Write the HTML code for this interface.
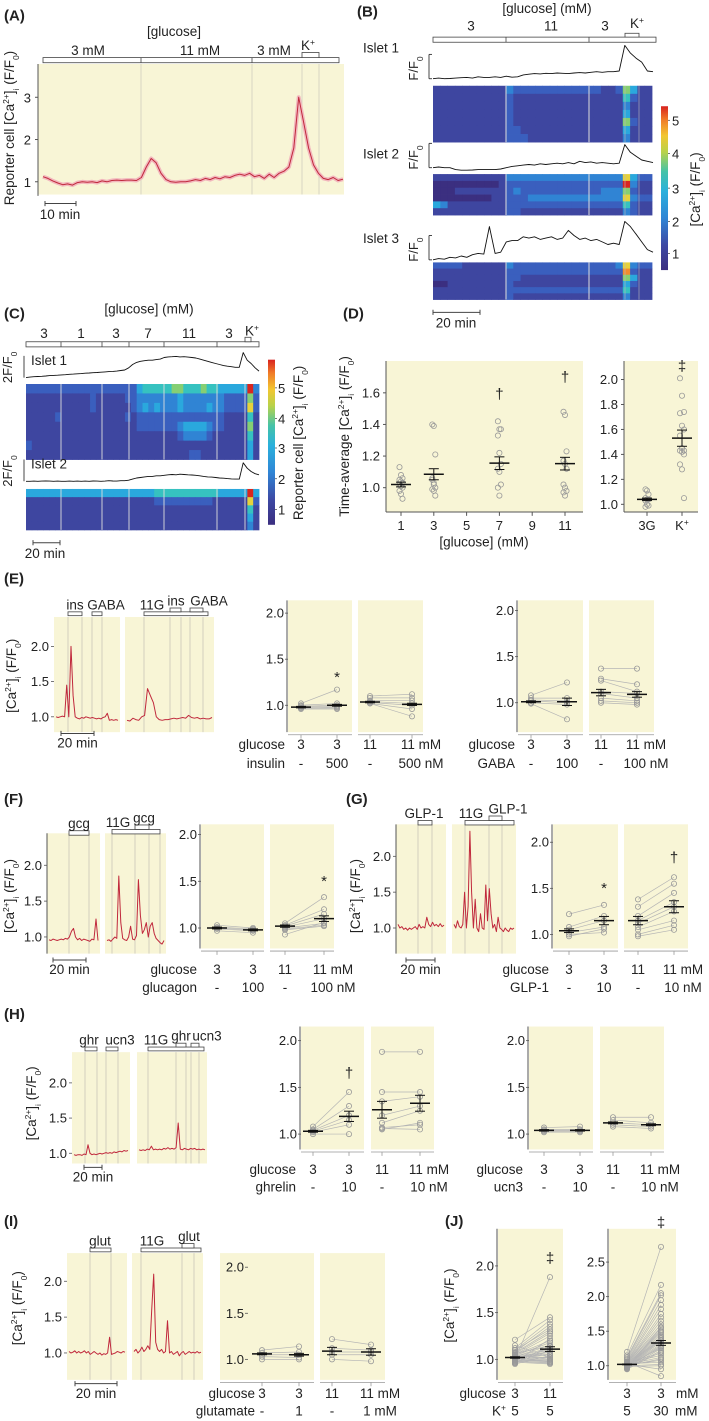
<!DOCTYPE html>
<html><head><meta charset="utf-8">
<style>
html,body{margin:0;padding:0;background:#fff;}
svg{display:block;font-family:"Liberation Sans",Arial,sans-serif;}
</style></head>
<body>
<svg id="fig" xmlns="http://www.w3.org/2000/svg" width="709" height="1421" viewBox="0 0 709 1421">
<defs>
<linearGradient id="cmap" x1="0" y1="1" x2="0" y2="0">
<stop offset="0" stop-color="#3b2f80"/><stop offset="0.15" stop-color="#3d48a3"/><stop offset="0.32" stop-color="#2f86d6"/>
<stop offset="0.48" stop-color="#2ab0dc"/><stop offset="0.6" stop-color="#45c3a8"/><stop offset="0.72" stop-color="#b8d24a"/>
<stop offset="0.82" stop-color="#f2c631"/><stop offset="0.92" stop-color="#f07a28"/><stop offset="1" stop-color="#d8231f"/>
</linearGradient>
</defs>
</svg>
<script>
// ---------------- DATA ----------------
const aTrace=[1.12,1.08,1.02,0.97,0.93,0.95,0.92,0.98,1.0,0.99,1.0,0.98,1.02,1.0,1.03,1.04,1.03,1.04,1.04,1.03,1.1,1.35,1.55,1.45,1.2,1.05,1.0,0.99,1.0,1.0,1.02,1.05,1.03,1.08,1.05,1.1,1.07,1.12,1.1,1.15,1.18,1.15,1.2,1.12,1.15,1.08,1.18,1.1,1.2,1.25,1.35,1.8,3.0,2.4,1.8,1.4,1.2,1.08,1.05,1.1,1.03,1.06];
const bIslet1=[1.0,1.05,1.0,1.02,1.05,1.08,1.1,1.05,1.15,1.1,1.1,1.15,1.1,1.2,1.12,1.15,1.3,1.35,1.4,1.38,1.42,1.4,1.45,1.42,1.4,1.45,1.48,1.45,1.5,1.55,1.5,1.55,1.55,1.6,3.6,3.0,2.6,2.3,1.6,1.55];
const bIslet2=[1.0,1.05,1.0,1.0,0.85,0.8,0.8,0.82,0.85,0.85,0.85,0.85,0.9,1.0,1.1,1.15,1.2,1.25,1.2,1.3,1.25,1.3,1.35,1.3,1.4,1.3,1.5,1.4,1.45,1.35,1.4,1.35,1.3,1.35,2.8,2.2,1.9,1.6,1.5,1.4];
const bIslet3=[1.0,1.1,1.05,1.2,1.15,1.3,1.2,1.4,1.5,1.45,3.6,1.5,1.6,2.4,2.5,2.5,2.8,2.7,2.8,2.6,2.7,2.8,2.6,2.7,3.3,2.9,2.6,2.7,2.5,2.6,2.4,2.2,2.3,2.2,4.0,3.6,3.0,2.4,1.8,1.6];
const bHeat1=["111111111132222222222221126411","111111111121111111111111115211","111111111121111111111111113111","111111111121111111111111114111","111111111121111111111111116211","111111111122111111111111114111","111111111122211111111111113111"];
const bHeat2=["111111111133333333333333337422","000000000122222222222222229311","000111111123222222222223336211","000000001122233333333333337322","431111111122222222222222225211","111111111122111111111111113211"];
const bHeat3=["222211111132222222222222237322","111111111122222222222222228211","111111111122111111111111116411","001111111121111111111111114211","111111111122222222222222225111","111111111121111111111111113111"];
const cIslet1=[1.0,1.05,1.08,1.1,1.12,1.15,1.18,1.2,1.22,1.25,1.27,1.3,1.32,1.35,1.37,1.4,1.42,1.45,1.47,1.5,1.52,1.55,1.57,1.6,1.65,1.7,1.9,2.2,2.4,2.5,2.55,2.6,2.6,2.65,2.7,2.85,2.9,2.92,2.95,2.9,2.92,2.88,2.85,2.8,2.7,2.6,2.5,2.4,2.3,2.2,2.1,2.05,2.0,1.95,1.95,3.3,2.6,2.3,1.9,1.6];
const cIslet2=[1.0,1.0,1.02,1.0,1.02,1.03,1.02,1.0,1.02,1.0,1.0,1.02,1.0,1.02,1.0,1.02,1.0,1.03,1.02,1.0,1.02,1.05,1.03,1.02,1.05,1.05,1.1,1.2,1.3,1.35,1.4,1.45,1.45,1.5,1.5,1.55,1.6,1.62,1.6,1.65,1.62,1.6,1.58,1.55,1.5,1.45,1.4,1.38,1.35,1.3,1.28,1.25,1.22,1.2,1.2,2.7,2.2,1.9,1.7,1.6];
const cHeat1=["2222222222222222222455555665556554444493","1111111111121111122333333343333333222262","1111111111121111112343433343333433222272","1111121111111111121222222222222222111151","1111111111111111111222222234444322111161","1111111111111111111111111123333211111151","2111111111111111111111111111111111111141","1111111111111111111111111111221111111141"];
const cHeat2=["4444444444444444444444555555555554444494","1111111111111111111111222222222211111172","1111111111111111111111111111111111111151","1111111111111111111111111111111111111141","1111111111111111111111111111111111111131"];
const dGlucose=[1,3,7,11];
const dPts1=[1.13,1.08,1.06,1.05,1.04,1.03,1.02,1.01,1.0,0.98,0.96,0.93];
const dPts3=[1.4,1.39,1.21,1.06,1.02,1.0,0.99,0.98,0.95,1.05,1.03];
const dPts7=[1.42,1.37,1.37,1.33,1.22,1.15,1.12,1.1,1.02,1.0,0.95];
const dPts11=[1.48,1.46,1.23,1.17,1.15,1.12,1.02,1.0,0.98,0.97,0.95];
const dMeans=[1.02,1.085,1.155,1.152];
const dSems=[0.015,0.035,0.04,0.04];
const d3G=[1.12,1.11,1.08,1.05,1.04,1.04,1.03,1.0,0.99,0.98];
const dK=[2.01,1.87,1.74,1.73,1.63,1.6,1.55,1.45,1.43,1.43,1.42,1.4,1.32,1.28,1.05];
const dRightMeans=[1.04,1.53];
const dRightSems=[0.01,0.065];
const eTr1=[1.0,0.99,1.0,1.01,1.0,1.45,1.0,2.0,1.3,1.0,0.98,0.97,0.99,0.98,1.0,0.99,0.98,0.99,0.98,0.97,0.98,0.97,0.99,1.0,1.05,0.95,0.96,0.95,0.96,0.95];
const eTr2=[0.95,0.94,0.98,0.96,0.95,1.0,1.02,1.4,1.3,1.2,1.0,0.96,0.95,0.96,0.96,0.97,0.98,0.97,0.98,0.99,0.98,1.02,0.99,0.98,0.99,0.97,0.98,0.97,0.97,0.99];
const fTr1=[0.96,0.95,0.97,0.96,0.95,0.96,0.97,0.96,0.98,0.97,1.0,1.08,1.12,1.0,0.96,0.98,0.95,0.97,0.96,0.95,0.94,0.97,0.96,1.25,0.95];
const fTr2=[0.95,0.96,0.94,0.97,1.0,0.98,1.85,1.2,0.98,0.96,0.95,1.0,1.15,0.97,0.96,1.02,1.8,1.3,1.05,1.1,1.2,1.0,1.15,1.2,1.05,0.98,0.95,0.92,0.9,0.95];
const gTr1=[1.05,1.0,1.02,0.98,1.0,0.97,1.0,0.98,1.0,1.02,0.98,1.05,1.0,1.02,1.0,1.15,1.05,1.02,1.08,1.03,1.05,1.02,1.06,1.02,1.04];
const gTr2=[1.05,1.0,1.1,1.02,1.0,1.05,1.5,1.0,1.3,2.35,1.5,1.0,1.4,1.0,0.95,1.2,1.0,0.98,1.6,1.1,1.55,1.2,1.0,1.05,0.95,1.15,1.0,0.98,0.95,1.0,0.97,0.95,1.0,0.98,1.0];
const hTr1=[0.98,0.97,0.98,0.98,0.97,0.99,0.98,1.12,1.0,0.98,0.99,0.98,0.99,1.0,0.99,1.0,1.01,1.0,1.01,1.0,1.02,1.01,1.02,1.03,1.02,1.04,1.03,1.04];
const hTr2=[1.05,1.04,1.05,1.04,1.06,1.05,1.1,1.05,1.06,1.05,1.06,1.05,1.07,1.06,1.08,1.06,1.07,1.06,1.08,1.43,1.06,1.05,1.07,1.06,1.05,1.07,1.06,1.07,1.05,1.06,1.05,1.06,1.05];
const iTr1=[1.02,1.0,1.01,1.03,1.0,1.02,1.0,1.01,1.03,1.0,1.02,0.98,1.0,1.02,1.0,0.98,1.0,0.97,0.99,0.98,1.0,1.22,0.98,0.99,1.0,1.02,1.01,1.0,1.02,1.01];
const iTr2=[1.02,1.05,1.0,1.03,1.08,1.02,1.05,1.1,1.05,1.6,2.1,1.15,1.05,1.02,1.05,1.0,1.02,1.45,1.0,1.02,0.98,1.0,1.02,0.96,1.0,1.02,0.98,1.0,1.02,1.0,1.01,1.0,1.02,1.0,1.01];
// paired data
const insPre3=[1.02,1.0,0.99,0.98,0.97,0.97,0.96], insPost3=[1.17,1.02,1.0,0.99,0.98,0.97,0.96];
const insPre11=[1.1,1.08,1.05,1.04,1.03,1.02,1.02], insPost11=[1.12,1.08,1.05,1.02,1.0,0.96,0.88];
const insMeans=[0.98,1.0,1.035,1.01], insSems=[0.008,0.01,0.008,0.012];
const gabaPre3=[1.08,1.05,1.03,1.02,1.0,0.99], gabaPost3=[1.22,1.05,1.02,1.0,0.98,0.82];
const gabaPre11=[1.37,1.26,1.24,1.12,1.1,1.05,1.02,1.0], gabaPost11=[1.37,1.2,1.12,1.1,1.05,1.02,1.0,0.98];
const gabaMeans=[1.01,1.01,1.11,1.09], gabaSems=[0.01,0.04,0.035,0.03];
const gcgPre3=[1.03,1.01,1.0,0.99,0.97], gcgPost3=[1.0,0.99,0.98,0.97,0.95];
const gcgPre11=[1.05,1.03,1.02,1.01,1.0,0.99,0.98,0.93], gcgPost11=[1.33,1.2,1.15,1.1,1.05,1.03,1.02,1.06];
const gcgMeans=[1.0,0.98,1.02,1.1], gcgSems=[0.01,0.01,0.012,0.03];
const glpPre3=[1.22,1.08,1.05,1.02,1.0,0.98], glpPost3=[1.32,1.2,1.15,1.08,1.02,1.06];
const glpPre11=[1.38,1.3,1.2,1.15,1.12,1.08,1.05,1.0,0.98], glpPost11=[1.62,1.55,1.45,1.35,1.3,1.25,1.15,1.1,1.05];
const glpMeans=[1.04,1.15,1.15,1.3], glpSems=[0.02,0.045,0.045,0.065];
const ghrPre3=[1.08,1.05,1.04,1.03,1.02,1.0], ghrPost3=[1.45,1.3,1.2,1.15,1.1,1.0];
const ghrPre11=[1.88,1.45,1.35,1.2,1.12,1.05,1.07,1.06], ghrPost11=[1.88,1.45,1.4,1.3,1.25,1.12,1.1,1.05];
const ghrMeans=[1.03,1.19,1.26,1.33], ghrSems=[0.01,0.055,0.09,0.085];
const ucnPre3=[1.07,1.05,1.04,1.03,1.02], ucnPost3=[1.08,1.05,1.04,1.03,1.02];
const ucnPre11=[1.18,1.15,1.12,1.1,1.08], ucnPost11=[1.18,1.12,1.1,1.08,1.06];
const ucnMeans=[1.04,1.04,1.12,1.1], ucnSems=[0.008,0.008,0.01,0.01];
const glutPre3=[1.1,1.07,1.05,1.03,1.0], glutPost3=[1.14,1.08,1.05,1.02,1.0];
const glutPre11=[1.22,1.12,1.08,1.05,1.0], glutPost11=[1.16,1.1,1.08,1.05,0.98];
const glutMeans=[1.06,1.05,1.09,1.08], glutSems=[0.01,0.015,0.04,0.035];
const j1Pre=[1.21,1.15,1.12,1.1,1.08,1.07,1.06,1.05,1.05,1.04,1.03,1.03,1.02,1.02,1.01,1.01,1.0,1.0,1.0,0.99,0.99,0.98,0.98,0.97,0.97,0.96,0.96,0.95,1.1,1.04,1.02,1.0,0.99,1.06,1.03];
const j1Post=[1.45,1.02,1.42,1.38,1.35,1.3,1.28,1.25,1.2,1.18,1.15,1.12,1.1,1.08,1.06,1.05,1.88,1.02,1.0,0.99,0.98,0.97,0.96,0.95,1.22,1.14,1.1,1.04,1.32,1.0,0.97,1.08,1.12,1.15,1.02];
const j1Means=[1.02,1.11], j1Sems=[0.008,0.025];
const j2Pre=[1.2,1.15,1.12,1.1,1.08,1.06,1.05,1.04,1.03,1.03,1.02,1.02,1.01,1.01,1.0,1.0,1.0,0.99,0.99,0.98,0.98,0.97,0.97,0.96,0.96,0.95,1.05,1.04,1.02,1.0,1.01,1.03,1.0,0.99,1.02,1.05,1.0,0.98,1.01,1.0];
const j2Post=[2.72,2.17,2.05,2.02,1.95,1.88,1.82,1.75,1.7,1.65,1.6,1.56,1.52,1.5,1.48,1.45,1.42,1.4,1.37,1.35,1.32,1.3,1.28,1.25,1.22,1.2,1.18,1.15,1.12,1.1,1.08,1.05,1.02,1.0,0.95,0.85,1.42,1.55,1.38,1.26];
const j2Means=[1.02,1.33], j2Sems=[0.006,0.035];

// ---------------- DRAW HELPERS ----------------
const K=1.28, NS='http://www.w3.org/2000/svg', svg=document.getElementById('fig');
const YEL='#f8f5d6', RED='#c0283c', TX='#222', FS=13.5;
const CMAP=['#3b2f80','#3e46a0','#3a5fbe','#3084d4','#2aa8dd','#36c2c0','#86cf73','#e6d23c','#f28c2e','#d9261f'];
function mk(tag,name){
  const e=document.createElementNS(NS,tag);
  
  
  svg.appendChild(e); return e;
}
function sa(e,o){for(const k in o)e.setAttribute(k,o[k]);return e;}
function R(x0,y0,x1,y1,fill,name,stroke,sw){return sa(mk('rect',name),{x:x0,y:y0*K,width:x1-x0,height:(y1-y0)*K,fill:fill,stroke:stroke||'none','stroke-width':sw||0});}
function L(x1,y1,x2,y2,col,w,name){return sa(mk('line',name),{x1:x1,y1:y1*K,x2:x2,y2:y2*K,stroke:col,'stroke-width':w});}
function T(x,y,s,name,fs,anc,wt,rot){
  const e=sa(mk('text',name),{x:x,y:y*K,'font-size':fs||FS,'text-anchor':anc||'middle','font-weight':wt||'normal',fill:TX});
  if(rot)e.setAttribute('transform','rotate(-90 '+x+' '+(y*K)+')');
  e.innerHTML=s;return e;
}
const SUP=s=>'<tspan baseline-shift="super" font-size="8.5">'+s+'</tspan>';
const SUB=s=>'<tspan baseline-shift="sub" font-size="8.5">'+s+'</tspan>';
const CA='[Ca'+SUP('2+')+']'+SUB('i')+' (F/F'+SUB('0')+')';
function trace(vals,x0,x1,yfn,col,w,name){
  let d='';vals.forEach((v,i)=>{const x=x0+(x1-x0)*i/(vals.length-1);d+=(i?'L':'M')+x.toFixed(1)+' '+(yfn(v)*K).toFixed(1);});
  return sa(mk('path',name),{d:d,fill:'none',stroke:col,'stroke-width':w,'stroke-linejoin':'round'});
}
function heat(rows,x0,x1,y0,y1,name){
  const nr=rows.length,nc=rows[0].length,cw=(x1-x0)/nc,rh=(y1-y0)/nr;
  rows.forEach((r,i)=>{for(let j=0;j<nc;j++){const c=sa(mk('rect',name+'-cell'),{x:x0+j*cw,y:(y0+i*rh)*K,width:cw+0.4,height:rh*K+0.4,fill:CMAP[+r[j]]});}});
}
function stimBox(x0,y0,x1,y1,name){return R(x0,y0,x1,y1,'#fff',name,'#444',0.8);}
function tickLabels(ticks,yfn,ax,name){ticks.forEach(t=>{T(ax-3,yfn(t)+3.5,t.toFixed(1),name,13,'end');});}
function circ(x,yD,name){return sa(mk('circle',name),{cx:x,cy:yD*K,r:2.6,fill:'none',stroke:'#999','stroke-width':0.8});}
function meanBar(x,m,s,yfn,name){
  L(x-10,yfn(m),x+10,yfn(m),'#111',1.5,name+'-mean');
  L(x,yfn(m-s),x,yfn(m+s),'#111',1,name+'-sem');
  L(x-5,yfn(m-s),x+5,yfn(m-s),'#111',1,name+'-sem-cap');
  L(x-5,yfn(m+s),x+5,yfn(m+s),'#111',1,name+'-sem-cap');
}
function tracePanel(p,name){
  R(p.x0,p.top,p.x1,p.bot,YEL,name+'-bg');
  p.lines.forEach(x=>L(x,p.top,x,p.bot,'#c9c7b8',0.8,name+'-stim-line'));
}

// ---------------- PANEL A ----------------
T(4,16,'(A)','panel-label-a',15,'start','bold');
T(174,28,'[glucose]','a-glucose-title',FS);
R(38,50,344,152,YEL,'a-plot-area');
const aY=v=>142-(v-1)*33;
L(38,50,38,153,'#555',1,'a-y-axis');
[1,2,3].forEach(t=>{L(35,aY(t),38,aY(t),'#555',1,'a-y-tick');T(31,aY(t)+4,String(t),'a-y-tick-label',13,'end');});
[141,252,302,319].forEach(x=>L(x,50,x,152,'#cfcdbf',0.8,'a-stim-line'));
stimBox(43,45,339,49,'a-glucose-bar');L(141,45,141,49,'#444',0.8,'a-bar-divider');L(252,45,252,49,'#444',0.8,'a-bar-divider');
stimBox(302,41,319,45,'a-kcl-box');
T(88,43,'3 mM','a-label-3mm');T(200,43,'11 mM','a-label-11mm');T(274,43,'3 mM','a-label-3mm-2');T(308,39,'K'+SUP('+'),'a-label-k');
trace(aTrace,43,343,v=>aY(v),'#f2b7bd',4,'a-trace-band');
trace(aTrace,43,343,v=>aY(v),RED,1,'a-trace-mean');
L(45,159,76,159,'#444',1,'a-scale-bar');L(45,157,45,161,'#444',1,'a-scale-tick');L(76,157,76,161,'#444',1,'a-scale-tick');
T(60,171,'10 min','a-scale-label');
T(14,100,'Reporter cell '+CA,'a-y-axis-title',FS,'middle','normal',true);

// ---------------- PANEL B ----------------
T(357,13,'(B)','panel-label-b',15,'start','bold');
T(547,10,'[glucose] (mM)','b-glucose-title',FS);
stimBox(433,29,656,33,'b-glucose-bar');L(506,29,506,33,'#444',0.8,'b-bar-divider');L(589,29,589,33,'#444',0.8,'b-bar-divider');
stimBox(625,26,639,29,'b-kcl-box');
T(471,24,'3','b-label-3');T(551,24,'11','b-label-11');T(605,24,'3','b-label-3b');T(637,22,'K'+SUP('+'),'b-label-k');
const bIs=[{d:bIslet1,h:bHeat1,lab:'Islet 1',ly:41,base:61.5,h0:67,h1:111},{d:bIslet2,h:bHeat2,lab:'Islet 2',ly:124,base:131,h0:136,h1:168},{d:bIslet3,h:bHeat3,lab:'Islet 3',ly:190,base:203,h0:205,h1:234}];
bIs.forEach((s,k)=>{
  const n='b-islet'+(k+1);
  T(363,s.ly,s.lab,n+'-label',FS,'start');
  T(418,s.base-8,'F/F'+SUB('0'),n+'-scale-label',13,'middle','normal',true);
  L(429,s.base-19,429,s.base,'#333',0.9,n+'-scale-bar');L(429,s.base-19,432,s.base-19,'#333',0.9,n+'-scale-bar');L(429,s.base,432,s.base,'#333',0.9,n+'-scale-bar');
  trace(s.d,433,653,v=>s.base-(v-1)*10,'#111',0.9,n+'-trace');
  heat(s.h,433,652,s.h0,s.h1,n+'-heatmap');
  [506,589].forEach(x=>L(x,s.h0,x,s.h1,'#ddd',1,n+'-heatmap-divider'));
  [625,639].forEach(x=>L(x,s.h0,x,s.h1,'#bbb',0.6,n+'-heatmap-divider'));
});
R(661,83,668,211,'url(#cmap)','b-colorbar');
[[5,94],[4,120],[3,147],[2,173],[1,198]].forEach(t=>{L(668,t[1],670,t[1],'#555',0.8,'b-colorbar-tick');T(672,t[1]+4,String(t[0]),'b-colorbar-label',13,'start');});
T(700,148,CA,'b-colorbar-title',FS,'middle','normal',true);
L(433,244,480,244,'#444',1,'b-scale-bar');L(433,242,433,246,'#444',1,'b-scale-tick');L(480,242,480,246,'#444',1,'b-scale-tick');
T(456,256,'20 min','b-scale-label');

// ---------------- PANEL C ----------------
T(4,249,'(C)','panel-label-c',15,'start','bold');
T(149,245,'[glucose] (mM)','c-glucose-title',FS);
stimBox(26,267,259,271,'c-glucose-bar');
[61,102,129,164,217].forEach(x=>L(x,267,x,271,'#444',0.8,'c-bar-divider'));
stimBox(245,263.5,251,267,'c-kcl-box');
[[44,'3'],[81,'1'],[116,'3'],[148,'7'],[189,'11'],[229,'3']].forEach(l=>T(l[0],264,l[1],'c-conc-label'));
T(252,262,'K'+SUP('+'),'c-label-k');
const cIs=[{d:cIslet1,h:cHeat1,lab:'Islet 1',ly:285,base:295,h0:300,h1:359},{d:cIslet2,h:cHeat2,lab:'Islet 2',ly:366,base:376,h0:382,h1:414}];
cIs.forEach((s,k)=>{
  const n='c-islet'+(k+1);
  T(31,s.ly,s.lab,n+'-label',FS,'start');
  T(12,s.base-8,'2F/F'+SUB('0'),n+'-scale-label',13,'middle','normal',true);
  L(24,s.base-17,24,s.base,'#333',0.9,n+'-scale-bar');
  trace(s.d,26,259,v=>s.base-(v-1)*8.5,'#111',0.9,n+'-trace');
  heat(s.h,26,259,s.h0,s.h1,n+'-heatmap');
  [61,102,129,164,217,245].forEach(x=>L(x,s.h0,x,s.h1,'#ddd',0.9,n+'-heatmap-divider'));
});
R(268,281,275,410,'url(#cmap)','c-colorbar');
[[5,303],[4,327],[3,350],[2,374],[1,398]].forEach(t=>{L(275,t[1],277,t[1],'#555',0.8,'c-colorbar-tick');T(278,t[1]+4,String(t[0]),'c-colorbar-label',13,'start');});
T(303,346,'Reporter cell '+CA,'c-colorbar-title',FS,'middle','normal',true);
L(33,424,60,424,'#444',1,'c-scale-bar');L(33,422,33,426,'#444',1,'c-scale-tick');L(60,422,60,426,'#444',1,'c-scale-tick');
T(45,436,'20 min','c-scale-label');

// ---------------- PANEL D ----------------
T(343,249,'(D)','panel-label-d',15,'start','bold');
R(386,282,583,400,YEL,'d-plot-area');
const dX=g=>401+(g-1)*16.4, dY=v=>381-(v-1)*123.5;
L(386,282,386,400,'#555',1,'d-y-axis');L(386,400,583,400,'#555',1,'d-x-axis');
[1.0,1.2,1.4,1.6].forEach(t=>{L(383,dY(t),386,dY(t),'#555',1,'d-y-tick');});
tickLabels([1.0,1.2,1.4,1.6],dY,383,'d-y-tick-label');
[1,3,5,7,9,11].forEach(g=>{L(dX(g),400,dX(g),403,'#555',1,'d-x-tick');T(dX(g),414,String(g),'d-x-tick-label',13);});
T(484,427,'[glucose] (mM)','d-x-axis-title');
T(349,341,'Time-average '+CA,'d-y-axis-title',FS,'middle','normal',true);
[dPts1,dPts3,dPts7,dPts11].forEach((pts,i)=>{const x=dX(dGlucose[i]);pts.forEach((v,j)=>circ(x+((j%3)-1)*1.5,dY(v),'d-point'));meanBar(x,dMeans[i],dSems[i],dY,'d-group');});
T(dX(7),dY(1.56),'†','d-sig-7',15);T(dX(11),dY(1.67),'†','d-sig-11',15);
R(624,282,698,400,YEL,'d-right-plot-area');
const dY2=v=>394-(v-1)*97.5;
L(624,282,624,400,'#555',1,'d-right-y-axis');L(624,400,698,400,'#555',1,'d-right-x-axis');
[1.0,1.2,1.4,1.6,1.8,2.0].forEach(t=>L(621,dY2(t),624,dY2(t),'#555',1,'d-right-y-tick'));
tickLabels([1.0,1.2,1.4,1.6,1.8,2.0],dY2,621,'d-right-y-tick-label');
[[647,'3G'],[682,'K'+SUP('+')]].forEach(l=>{L(l[0],400,l[0],403,'#555',1,'d-right-x-tick');T(l[0],414,l[1],'d-right-x-tick-label',13);});
d3G.forEach((v,j)=>circ(647+((j%3)-1)*1.5,dY2(v),'d-3g-point'));dK.forEach((v,j)=>circ(682+((j%3)-1)*2,dY2(v),'d-k-point'));
meanBar(647,dRightMeans[0],dRightSems[0],dY2,'d-3g');meanBar(682,dRightMeans[1],dRightSems[1],dY2,'d-k');
T(682,dY2(2.07),'‡','d-sig-k',15);

// ---------------- TRACE PANELS E–I ----------------
function traceFig(c,tr1,tr2,name){
  tracePanel({x0:c.p1[0],x1:c.p1[1],top:c.top,bot:c.bot,lines:c.l1},name+'-trace1');
  tracePanel({x0:c.p2[0],x1:c.p2[1],top:c.top,bot:c.bot,lines:c.l2},name+'-trace2');
  const yf=v=>c.y1-(v-1)*(c.y1-c.y2);
  if(c.axis)L(c.p1[0],c.top,c.p1[0],c.bot,'#555',1,name+'-y-axis');
  [1.0,1.5,2.0].forEach(t=>{L(c.p1[0]-3,yf(t),c.p1[0],yf(t),'#555',0.8,name+'-y-tick');});
  tickLabels([1.0,1.5,2.0],yf,c.p1[0]-2,name+'-y-tick-label');
  trace(tr1,c.p1[0]+2,c.p1[1]-2,yf,RED,1,name+'-trace1-line');
  trace(tr2,c.p2[0]+2,c.p2[1]-2,yf,RED,1,name+'-trace2-line');
  L(c.sb[0],c.sb[2],c.sb[1],c.sb[2],'#444',1,name+'-scale-bar');
  L(c.sb[0],c.sb[2]-2,c.sb[0],c.sb[2]+2,'#444',1,name+'-scale-tick');L(c.sb[1],c.sb[2]-2,c.sb[1],c.sb[2]+2,'#444',1,name+'-scale-tick');
  T((c.sb[0]+c.sb[1])/2,c.sb[2]+11,'20 min',name+'-scale-label');
  T(c.yl[0],c.yl[1],CA,name+'-y-axis-title',FS,'middle','normal',true);
  c.stims.forEach(s=>{stimBox(s[0],s[1],s[2],s[3],name+'-stim-box');if(s[4])T(s[5],s[1]-2,s[4],name+'-stim-label');});
}
traceFig({p1:[54,120],p2:[125,214],top:482,bot:572,y1:560,y2:505,l1:[68,82,92,102],l2:[144,170,181,190,203],sb:[61,94,573],yl:[16,528],
  stims:[[68,478,82,481,'ins',75],[92,478,102,481,'GABA',106],[144,478,208,481,'11G',152],[170,475,181,478,'ins',176],[190,475,203,478,'GABA',209]]},eTr1,eTr2,'e');
T(4,456,'(E)','panel-label-e',15,'start','bold');
traceFig({p1:[47,100],p2:[105,166],top:651,bot:745,y1:732,y2:676,axis:true,l1:[69,89],l2:[112,135,149,160],sb:[53,86,750],yl:[14,700],
  stims:[[69,649,89,652.5,'gcg',79],[112,648,160,651.5,'11G',118],[135,644.5,149,648,'gcg',144]]},fTr1,fTr2,'f');
T(4,628,'(F)','panel-label-f',15,'start','bold');
traceFig({p1:[396,446],p2:[452,516],top:644,bot:745,y1:725,y2:669,axis:true,l1:[418,432],l2:[465,489,502],sb:[406,435,750],yl:[360,700],
  stims:[[418,641,432,644.5,'GLP-1',424],[465,641,514,644.5,'11G',471],[489,637.5,502,641,'GLP-1',508]]},gTr1,gTr2,'g');
T(346,628,'(G)','panel-label-g',15,'start','bold');
traceFig({p1:[72,130],p2:[137,207],top:822,bot:909,y1:901,y2:846,l1:[85,97,106,118],l2:[148,176,186,191,199],sb:[84,102,912],yl:[36,862],
  stims:[[85,818,97,821,'ghr',89],[106,818,118,821,'ucn3',120],[148,818,204,821,'11G',156],[176,815,186,818,'ghr',181],[191,815,199,818,'ucn3',207]]},hTr1,hTr2,'h');
T(4,796,'(H)','panel-label-h',15,'start','bold');
traceFig({p1:[67,127],p2:[132,203],top:979,bot:1078,y1:1057,y2:1001,l1:[90,111],l2:[141,182,194],sb:[75,117,1081],yl:[22,1022],
  stims:[[90,975,111,978,'glut',100],[141,975,201,978,'11G',152],[182,971.5,194,975,'glut',189]]},iTr1,iTr2,'i');
T(4,958,'(I)','panel-label-i',15,'start','bold');

// ---------------- PAIRED PANELS ----------------
function paired(c,pre3,post3,pre11,post11,means,sems,marks,row1,row2,name){
  const yf=v=>c.y1-(v-1)*c.s;
  c.panels.forEach(p=>{R(p[0],c.top,p[1],c.bot,YEL,name+'-panel-bg');L(p[0],c.bot+2,p[1],c.bot+2,'#999',0.8,name+'-x-axis');});
  if(c.axis)L(c.panels[0][0]-1,c.top,c.panels[0][0]-1,c.bot,'#555',1,name+'-y-axis');
  c.ticks.forEach(t=>L(c.tickX-3,yf(t),c.tickX,yf(t),'#555',0.8,name+'-y-tick'));
  tickLabels(c.ticks,yf,c.tickX-1,name+'-y-tick-label');
  c.xs.forEach(x=>L(x,c.bot+2,x,c.bot+5,'#999',0.8,name+'-x-tick'));
  const grp=[[pre3,post3],[pre11,post11]];
  grp.forEach((g,k)=>{if(!g[0])return;const xa=c.xs[2*k],xb=c.xs[2*k+1];
    g[0].forEach((v,i)=>L(xa,yf(v),xb,yf(g[1][i]),'#b5b5b5',0.7,name+'-pair-line'));
    g[0].forEach(v=>circ(xa,yf(v),name+'-point'));g[1].forEach(v=>circ(xb,yf(v),name+'-point'));});
  means.forEach((m,i)=>meanBar(c.xs[i],m,sems[i],yf,name));
  marks.forEach(m=>T(c.xs[m[0]],yf(m[2]),m[1],name+'-sig',15));
  if(c.lab1)T(c.labelX,c.rows[0],c.lab1,name+'-row1-title',FS,'end');
  if(c.lab2)T(c.labelX,c.rows[1],c.lab2,name+'-row2-title',FS,'end');
  row1.forEach((s,i)=>T(c.xs[i]+(s.length>2?9:0),c.rows[0],s,name+'-row1-label'));
  row2.forEach((s,i)=>T(c.xs[i]+(s.length>3?9:0),c.rows[1],s,name+'-row2-label'));
}
const T3=[1.0,1.5,2.0];
paired({panels:[[288,352],[358,423]],axis:true,tickX:288,top:469,bot:572,y1:551,s:72,ticks:T3,xs:[301,337,370,412],labelX:285,rows:[585,600],lab1:'glucose',lab2:'insulin'},
  insPre3,insPost3,insPre11,insPost11,insMeans,insSems,[[1,'*',1.25]],['3','3','11','11 mM'],['-','500','-','500 nM'],'e-insulin');
paired({panels:[[518,583],[589,654]],axis:true,tickX:518,top:469,bot:572,y1:549,s:72,ticks:T3,xs:[531,567,601,637],labelX:515,rows:[585,600],lab1:'glucose',lab2:'GABA'},
  gabaPre3,gabaPost3,gabaPre11,gabaPost11,gabaMeans,gabaSems,[],['3','3','11','11 mM'],['-','100','-','100 nM'],'e-gaba');
paired({panels:[[201,264],[270,334]],axis:true,tickX:201,top:644,bot:741,y1:725,s:73,ticks:T3,xs:[217,253,285,324],labelX:197,rows:[761,775],lab1:'glucose',lab2:'glucagon'},
  gcgPre3,gcgPost3,gcgPre11,gcgPost11,gcgMeans,gcgSems,[[3,'*',1.45]],['3','3','11','11 mM'],['-','100','-','100 nM'],'f-glucagon');
paired({panels:[[553,618],[624,688]],axis:true,tickX:553,top:644,bot:741,y1:730,s:72,ticks:T3,xs:[569,604,638,674],labelX:549,rows:[761,775],lab1:'glucose',lab2:'GLP-1'},
  glpPre3,glpPost3,glpPre11,glpPost11,glpMeans,glpSems,[[1,'*',1.45],[3,'†',1.78]],['3','3','11','11 mM'],['-','10','-','10 nM'],'g-glp1');
paired({panels:[[301,364],[371,434]],axis:true,tickX:301,top:802,bot:898,y1:886,s:73,ticks:T3,xs:[313,349,382,420],labelX:296,rows:[917,931],lab1:'glucose',lab2:'ghrelin'},
  ghrPre3,ghrPost3,ghrPre11,ghrPost11,ghrMeans,ghrSems,[[1,'†',1.6]],['3','3','11','11 mM'],['-','10','-','10 nM'],'h-ghrelin');
paired({panels:[[529,593],[600,664]],axis:true,tickX:529,top:802,bot:898,y1:886,s:73,ticks:T3,xs:[544,580,613,651],labelX:523,rows:[917,931],lab1:'glucose',lab2:'ucn3'},
  ucnPre3,ucnPost3,ucnPre11,ucnPost11,ucnMeans,ucnSems,[],['3','3','11','11 mM'],['-','10','-','10 nM'],'h-ucn3');
paired({panels:[[220,314],[320,385]],tickX:248,top:979,bot:1078,y1:1062,s:72,ticks:T3,xs:[262,299,332,371],labelX:255,rows:[1092,1106],lab1:'glucose',lab2:'glutamate'},
  glutPre3,glutPost3,glutPre11,glutPost11,glutMeans,glutSems,[],['3','3','11','11 mM'],['-','1','-','1 mM'],'i-glutamate');
T(445,958,'(J)','panel-label-j',15,'start','bold');
paired({panels:[[498,563]],axis:true,tickX:498,top:960,bot:1078,y1:1062,s:73,ticks:T3,xs:[515,550],labelX:506,rows:[1092,1106],lab1:'glucose',lab2:'K'+SUP('+')},
  j1Pre,j1Post,null,null,j1Means,j1Sems,[[1,'‡',2.03]],['3','11'],['5','5'],'j-kcl5');
paired({panels:[[609,676]],axis:true,tickX:609,top:960,bot:1078,y1:1067,s:54,ticks:[1.0,1.5,2.0,2.5],xs:[627,661],labelX:0,rows:[1092,1106]},
  j2Pre,j2Post,null,null,j2Means,j2Sems,[[1,'‡',3.0]],['3','3'],['5','30'],'j-kcl30');
T(676,1092,'mM','j-unit-1',FS,'start');T(675,1106,'mM','j-unit-2',FS,'start');
T(454,1020,CA,'j-y-axis-title',FS,'middle','normal',true);
</script>
</body></html>
